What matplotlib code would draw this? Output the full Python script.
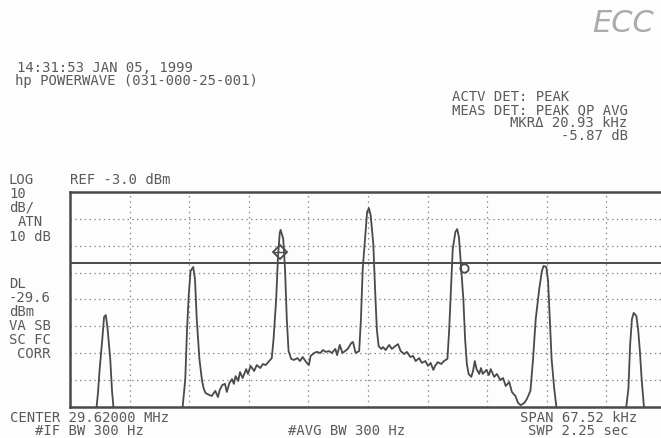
import matplotlib
matplotlib.use("Agg")
import matplotlib.pyplot as plt

# Analyzer settings (frequency axis is offset from centre, in kHz)
center_mhz = 29.62
span_khz = 67.52
ref_dbm = -3.0
db_per_div = 10.0
n_xdiv = 10
n_ydiv = 8
display_line_dbm = -29.6
atten_db = 10
if_bw_hz = 300
avg_bw_hz = 300
sweep_s = 2.25

# Swept trace: frequency offset (kHz) and level (dBm); values below the
# bottom graticule line fall off screen
trace_khz = [
    -33.76, -31.2, -30.8, -30.6, -30.4, -30.1, -29.9, -29.7, -29.5, -29.2, -29.0, -28.8,
    -27.0, -21.3, -21.0, -20.7, -20.5, -20.3, -20.1, -19.8, -19.6, -19.4, -19.1, -18.8,
    -18.6, -18.4, -18.0, -17.7, -17.3, -17.0, -16.8, -16.5, -16.2, -16.0, -15.7, -15.4,
    -15.2, -15.0, -14.7, -14.5, -14.2, -13.8, -13.6, -13.3, -12.9, -12.6, -12.2, -11.9,
    -11.6, -11.2, -10.9, -10.7, -10.4, -10.2, -10.0, -9.9, -9.6, -9.4, -9.2, -9.0,
    -8.7, -8.4, -8.0, -7.7, -7.4, -7.0, -6.7, -6.5, -6.1, -5.8, -5.4, -5.1,
    -4.8, -4.4, -4.1, -3.7, -3.5, -3.2, -2.9, -2.6, -2.3, -1.9, -1.7, -1.4,
    -1.0, -0.8, -0.6, -0.3, -0.1, 0.1, 0.3, 0.6, 0.8, 1.0, 1.2,
    1.5, 1.7, 2.0, 2.4, 2.7, 3.1, 3.4, 3.7, 4.1, 4.4, 4.8, 5.1,
    5.4, 5.8, 6.1, 6.5, 6.8, 7.1, 7.4, 7.6, 7.9, 8.3, 8.6, 9.0,
    9.2, 9.4, 9.6, 9.9, 10.1, 10.3, 10.5, 10.8, 11.0, 11.2,
    11.4, 11.7, 11.9, 12.1, 12.3, 12.6, 12.8, 13.0, 13.4, 13.7, 13.9, 14.3,
    14.6, 15.0, 15.3, 15.6, 16.0, 16.3, 16.7, 17.0, 17.3, 17.7, 18.0, 18.4,
    18.7, 19.0, 19.4, 19.7, 19.9, 20.2, 20.4, 20.6, 20.8, 21.1, 21.4, 21.8,
    29.0, 29.2, 29.5, 29.7, 29.9, 30.1, 30.4, 30.6, 30.8, 31.0, 31.3, 31.6,
    33.76,
]
trace_dbm = [
    -88.0, -88.0, -84.5, -78.2, -68.9, -57.7, -49.5, -48.8, -54.0, -65.1, -77.0, -84.5,
    -88.0, -84.5, -83.0, -72.6, -54.0, -41.0, -32.4, -30.9, -35.4, -50.3, -65.1, -73.3,
    -76.3, -77.8, -78.5, -78.9, -77.0, -79.3, -76.7, -74.8, -74.4, -77.4, -74.1, -72.6,
    -74.4, -71.5, -73.3, -70.0, -72.2, -68.9, -70.7, -67.7, -69.6, -67.4, -68.5, -67.0,
    -67.4, -65.9, -64.8, -57.7, -42.8, -27.2, -18.3, -17.1, -20.5, -31.7, -50.3, -62.2,
    -65.1, -65.5, -64.8, -65.9, -64.4, -66.3, -67.4, -64.0, -62.9, -62.5, -62.9, -61.8,
    -62.5, -62.2, -62.9, -61.4, -63.7, -59.9, -62.9, -62.2, -61.4, -59.2, -58.8, -62.9,
    -62.2, -50.3, -31.7, -18.6, -10.4, -9.0, -11.6, -22.3, -39.1, -54.0, -60.3,
    -61.4, -60.7, -61.8, -59.9, -61.4, -60.3, -59.6, -62.2, -63.3, -62.5, -64.4, -64.0,
    -65.9, -64.8, -66.6, -65.9, -67.7, -66.6, -69.2, -67.7, -66.3, -67.0, -65.9, -65.1,
    -54.0, -39.1, -24.2, -17.9, -16.8, -19.7, -28.7, -42.8, -57.7, -67.0,
    -70.7, -71.8, -69.6, -65.9, -68.9, -70.7, -68.5, -70.7, -69.2, -71.1, -68.9, -71.8,
    -70.7, -73.0, -72.2, -75.2, -73.7, -77.4, -78.9, -81.5, -82.3, -81.5, -80.0, -77.0,
    -65.1, -50.3, -39.1, -32.4, -30.5, -30.9, -36.1, -50.3, -65.1, -76.3, -84.5, -88.0,
    -88.0, -84.5, -76.3, -59.6, -50.3, -48.0, -49.1, -54.0, -62.2, -72.6, -84.5, -88.0,
    -88.0,
]

# Marker and delta marker readout
mkr_khz = -10.0
mkr_dbm = -25.5
delta_khz = 20.93
delta_db = -5.87

timestamp = "14:31:53 JAN 05, 1999"
title = "hp POWERWAVE (031-000-25-001)"
detector_lines = ["ACTV DET: PEAK", "MEAS DET: PEAK QP AVG"]

W, H = 661, 439
fig = plt.figure(figsize=(W / 100, H / 100), dpi=100)
fig.patch.set_facecolor("#fdfdfd")

ink = "#4a4a4a"
txt = "#5a5a5a"
mono = "DejaVu Sans Mono"
fs = 10.0
adv = 0.602 * fs * 100 / 72  # monospace advance in pixels

def px(x, y):
    return x / W, 1 - y / H

def put(s, x, y, ha="left"):
    fig.text(*px(x, y), s, ha=ha, va="center", family=mono, fontsize=fs,
             color=txt, zorder=-1)

# Graticule box; right edge runs past the page edge
left, right, top, bottom = 70, 666, 193, 408
ax = fig.add_axes([left / W, 1 - bottom / H, (right - left) / W, (bottom - top) / H])
ax.set_facecolor("#fdfdfd")
half = span_khz / 2
ax.set_xlim(-half, half)
ax.set_ylim(ref_dbm - n_ydiv * db_per_div, ref_dbm)
xdiv = [-half + i * span_khz / n_xdiv for i in range(1, n_xdiv)]
ydiv = [ref_dbm - i * db_per_div for i in range(1, n_ydiv)]
for xv in xdiv:
    ax.axvline(xv, color="#8a8a8a", lw=0.9, ls=(0, (1.2, 3.0)), zorder=1)
for yv in ydiv:
    ax.axhline(yv, color="#8a8a8a", lw=0.9, ls=(0, (1.2, 2.6)), zorder=1)
ax.set_xticks([])
ax.set_yticks([])
for s in ax.spines.values():
    s.set_color(ink)
    s.set_linewidth(1.8)

ax.axhline(display_line_dbm, color=ink, lw=1.4, zorder=2)
ax.plot(trace_khz, trace_dbm, color=ink, lw=1.3, zorder=3)

ax.plot([mkr_khz], [mkr_dbm], marker="D", ms=7, mfc="none", mec=ink, mew=1.3, zorder=4)
ax.plot([mkr_khz - 0.6, mkr_khz + 0.6], [mkr_dbm, mkr_dbm], color=ink, lw=1.0, zorder=4)
ax.plot([mkr_khz + delta_khz], [mkr_dbm + delta_db], marker="o", ms=6, mfc="none",
        mec=ink, mew=1.3, zorder=4)

# Header
put(timestamp, 17, 68)
put(title, 15, 81)

# Detector and marker readout, right columns aligned with the longest line
x0 = 452
x_end = x0 + len(detector_lines[1]) * adv
put(detector_lines[0], x0, 97)
put(detector_lines[1], x0, 110)
put(f"MKR\u0394 {delta_khz:.2f} kHz", x_end, 123, ha="right")
put(f"{delta_db:.2f} dB", x_end, 136, ha="right")

# Left annotation column
put("LOG", 9, 180)
put(f"REF {ref_dbm:.1f} dBm", 70, 180)
put("10", 9, 194)
put("dB/", 9, 208)
put("ATN", 9 + adv, 222)
put(f"{atten_db} dB", 9, 237)
put("DL", 9, 284)
put(f"{display_line_dbm:.1f}", 9, 298)
put("dBm", 9, 312)
put("VA SB", 9, 326)
put("SC FC", 9, 340)
put("CORR", 9 + adv, 354)

# Footer
put(f"CENTER {center_mhz:.5f} MHz", 10, 418)
put(f"#IF BW {if_bw_hz} Hz", 10 + 3 * adv, 431)
put(f"#AVG BW {avg_bw_hz} Hz", 288, 431)
put(f"SPAN {span_khz:.2f} kHz", 520, 418)
put(f"SWP {sweep_s:.2f} sec", 520 + adv, 431)

# Handwritten note at the top corner
fig.text(*px(592, 24), "ECC", ha="left", va="center", family="DejaVu Sans",
         fontsize=22, style="italic", fontweight="light", color="#ababab")

fig.savefig("out.png", dpi=100, facecolor=fig.get_facecolor())
